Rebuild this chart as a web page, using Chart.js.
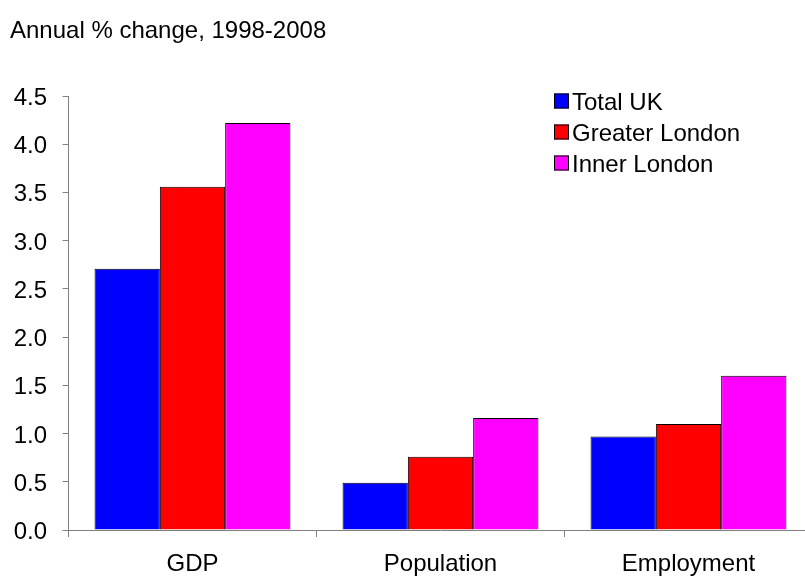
<!DOCTYPE html>
<html>
<head>
<meta charset="utf-8">
<script src="https://cdn.jsdelivr.net/npm/chart.js@4/dist/chart.umd.min.js"></script>
<style>
  html, body { margin: 0; padding: 0; background: #fff; overflow: hidden; }
  #wrap { position: relative; width: 805px; height: 576px; overflow: hidden; }
  canvas { display: block; }
</style>
</head>
<body>
<div id="wrap"><canvas id="c" width="830" height="576"></canvas></div>
<script>
// Annual % change, 1998-2008
const categories = ['GDP', 'Population', 'Employment'];
const totalUK = [2.71, 0.49, 0.97];
const greaterLondon = [3.56, 0.76, 1.10];
const innerLondon = [4.22, 1.16, 1.60];
const seriesNames = ['Total UK', 'Greater London', 'Inner London'];
const yTicks = [0, 0.5, 1, 1.5, 2, 2.5, 3, 3.5, 4, 4.5];
const titleText = 'Annual % change, 1998-2008';

const FONT = '"Liberation Sans", Arial, Helvetica, sans-serif';
const FS = 24;
const AXIS = '#808080';

function text(ctx, str, x, y, align) {
  ctx.textAlign = align;
  ctx.fillText(str, x, y);
}

// Title, axis labels and boxed legend
const decor = {
  id: 'decor',
  afterDraw(chart) {
    const ctx = chart.ctx;
    const xs = chart.scales.x, ys = chart.scales.y;
    ctx.save();
    ctx.font = FS + 'px ' + FONT;
    ctx.fillStyle = '#000';
    ctx.textBaseline = 'alphabetic';

    text(ctx, titleText, 10, 38, 'left');

    ys.ticks.forEach(t => {
      const y = ys.getPixelForValue(t.value);
      text(ctx, Number(t.value).toFixed(1), 47, y + 9, 'right');
    });

    categories.forEach((c, i) => {
      text(ctx, c, xs.getPixelForValue(i), 571, 'center');
    });

    chart.data.datasets.forEach((ds, i) => {
      const y = 101 + i * 31;
      ctx.fillStyle = ds.backgroundColor;
      ctx.fillRect(554, y - 7.5, 15, 15);
      ctx.strokeStyle = '#000';
      ctx.lineWidth = 1;
      ctx.strokeRect(554.5, y - 7, 14, 14);
      ctx.fillStyle = '#000';
      text(ctx, ds.label, 572, y + 9, 'left');
    });
    ctx.restore();
  }
};

new Chart(document.getElementById('c'), {
  type: 'bar',
  data: {
    labels: categories,
    datasets: [
      { label: seriesNames[0], data: totalUK, backgroundColor: '#0000FF' },
      { label: seriesNames[1], data: greaterLondon, backgroundColor: '#FF0000' },
      { label: seriesNames[2], data: innerLondon, backgroundColor: '#FF00FF' }
    ]
  },
  options: {
    responsive: false,
    animation: false,
    devicePixelRatio: 1,
    layout: { padding: { top: 96, right: 17.5, left: 0, bottom: 0 } },
    datasets: {
      bar: {
        borderColor: '#000',
        borderWidth: 1,
        categoryPercentage: 0.79,
        barPercentage: 1
      }
    },
    plugins: {
      legend: { display: false },
      tooltip: { enabled: false },
      title: { display: false }
    },
    scales: {
      x: {
        grid: {
          display: true,
          drawOnChartArea: false,
          drawTicks: true,
          tickLength: 7,
          color: AXIS,
          offset: true
        },
        border: { display: true, color: AXIS, width: 1 },
        ticks: { display: false },
        afterFit(scale) { scale.height = 46; }
      },
      y: {
        min: 0,
        max: 4.5,
        afterBuildTicks(scale) { scale.ticks = yTicks.map(v => ({ value: v })); },
        grid: {
          display: true,
          drawOnChartArea: false,
          drawTicks: true,
          tickLength: 6,
          color: AXIS
        },
        border: { display: true, color: AXIS, width: 1 },
        ticks: { display: false },
        afterFit(scale) { scale.width = 68.5; }
      }
    }
  },
  plugins: [decor]
});
</script>
</body>
</html>
